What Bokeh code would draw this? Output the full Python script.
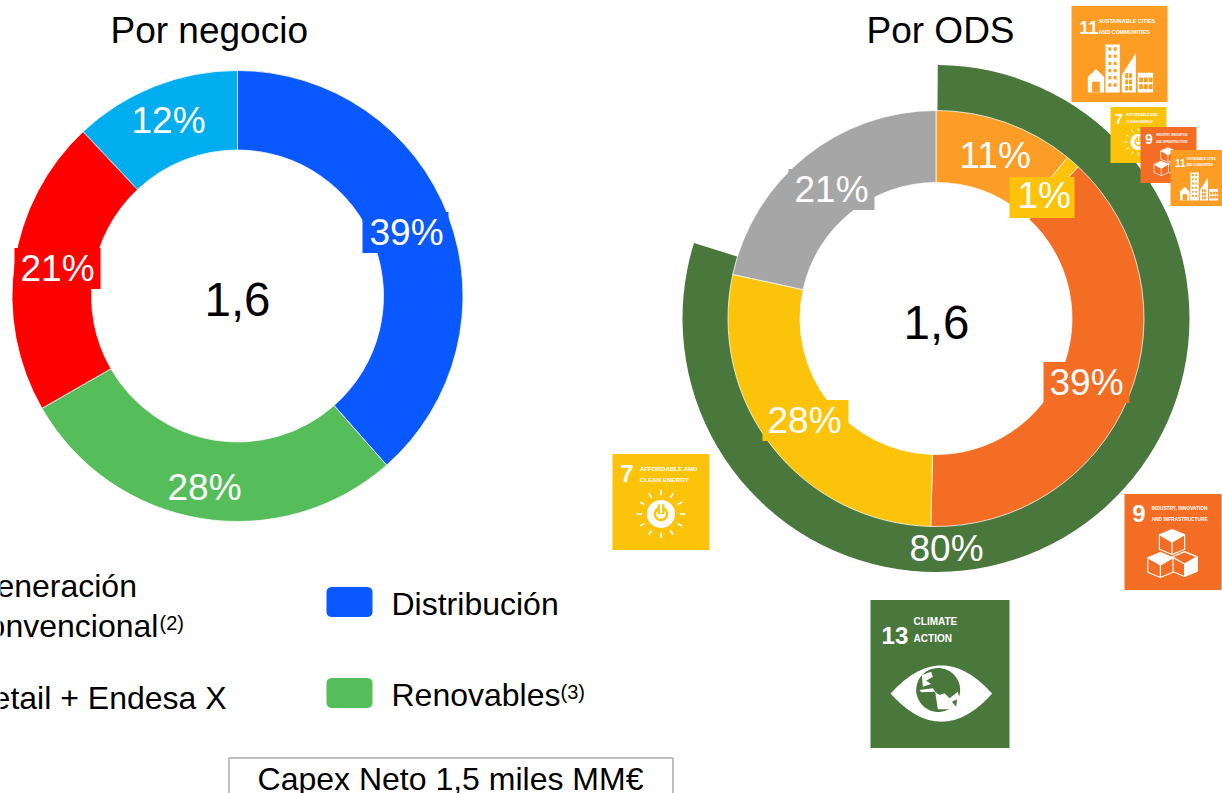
import numpy as np
from bokeh.plotting import figure
from bokeh.core.properties import value
from bokeh.embed import file_html
from bokeh.resources import INLINE

# ---- data ----
negocio_values = [38.5, 28.2, 21.3, 12.0]
negocio_labels = ["39%", "28%", "21%", "12%"]
negocio_colors = ["#0A58FF", "#55BE5A", "#FF0000", "#00AEEF"]

ods_values = [10.9, 1.1, 38.4, 28.0, 21.6]
ods_labels = ["11%", "1%", "39%", "28%", "21%"]
ods_colors = ["#FB9D26", "#FCC30B", "#F36D25", "#FCC30B", "#A6A6A6"]

climate_values = [79.7]
climate_labels = ["80%"]
climate_colors = ["#4A773C"]

total_label = "1,6"
capex_label = "Capex Neto 1,5 miles MM€"

W, H = 1222, 793
FONT = "Liberation Sans"
WHITE = "#FFFFFF"
BASE = 0.33  # baseline correction of the text glyph, in font sizes


def Y(y):
    return H - np.asarray(y, dtype=float)


p = figure(width=W, height=H, x_range=(1, W + 1), y_range=(-0.5, H - 0.5), output_backend="svg",
           toolbar_location=None, min_border=0, outline_line_color=None,
           background_fill_color=WHITE)
p.axis.visible = False
p.grid.visible = False


def txt(x, y, s, size, color="#000000", align="left", font=FONT, style="normal"):
    p.text(x=[x], y=[float(Y(y - BASE * size))], text=[s], text_font=value(font),
           text_font_size=value(f"{size}px"), text_color=color, text_align=align,
           text_baseline="alphabetic", text_font_style=style)


def box(x0, y0, x1, y1, color, line=None, lw=1):
    p.quad(left=[x0], right=[x1], top=[float(Y(y0))], bottom=[float(Y(y1))],
           fill_color=color, line_color=line, line_width=lw)


def ring(cx, cy, r0, r1, values, colors, offset=0.0, total=100.0, sep=None):
    starts = np.cumsum([0.0] + list(values)[:-1])
    ends = starts + np.array(values)
    a0 = np.pi / 2 - np.radians(offset) - 2 * np.pi * starts / total
    a1 = np.pi / 2 - np.radians(offset) - 2 * np.pi * ends / total
    p.annular_wedge(x=[cx] * len(values), y=[float(Y(cy))] * len(values),
                    inner_radius=r0, outer_radius=r1, start_angle=a0, end_angle=a1,
                    direction="clock", fill_color=colors, line_color=sep,
                    line_width=1 if sep else 0, line_alpha=0.75)


# ---------- pictograms ----------
def icon(x0, y0, w, h, color, num, lines, num_size, title_size, picto, title_u=0.28):
    box(x0, y0, x0 + w, y0 + h, color)
    U = lambda u: x0 + np.asarray(u, dtype=float) * w
    V = lambda v: Y(y0 + np.asarray(v, dtype=float) * h)

    def poly(us, vs, fill=WHITE, line=None, lw=1):
        p.patch(x=U(us), y=V(vs), fill_color=fill, line_color=line, line_width=lw)

    def rects(items, fill):
        for a, b, c, d in items:
            poly([a, c, c, a], [b, b, d, d], fill)

    def seg(us, vs, lw):
        p.line(x=U(us), y=V(vs), line_color=WHITE, line_width=lw)

    txt(float(U(0.08)), y0 + 0.29 * h, num, num_size, WHITE, style="bold")
    for ln, v in zip(lines, (0.17, 0.285)):
        txt(float(U(title_u)), y0 + v * h, ln, title_size, WHITE, style="bold")
    picto(w, h, U, V, poly, rects, seg, color)


def sun(w, h, U, V, poly, rects, seg, color):
    cx, cy = 0.5, 0.625
    t = np.linspace(0, 2 * np.pi, 60)
    for a in np.arange(12) * np.pi / 6:
        seg([cx + .195 * np.sin(a), cx + .25 * np.sin(a)],
            [cy - .195 * np.cos(a), cy - .25 * np.cos(a)], max(1, w * .017))
    poly(cx + .145 * np.cos(t), cy + .145 * np.sin(t))
    poly(cx + .075 * np.cos(t), cy + .075 * np.sin(t), color)
    poly(cx + .05 * np.cos(t), cy + .05 * np.sin(t))
    poly([cx - .035, cx + .035, cx + .035, cx - .035], [cy - .1, cy - .1, cy, cy], color)
    poly([cx - .012, cx + .012, cx + .012, cx - .012], [cy - .1, cy - .1, cy - .01, cy - .01])


def blocks(w, h, U, V, poly, rects, seg, color):
    r = 0.13
    q = 0.075
    lw = max(0.6, w * .012)
    for cx, cy, face in [(0.49, 0.50, "top"), (0.62, 0.73, "right"), (0.37, 0.74, "top")]:
        hx = [cx, cx + r, cx + r, cx, cx - r, cx - r]
        hy = [cy - r, cy - q, cy + q, cy + r, cy + q, cy - q]
        poly(hx, hy, color, WHITE, lw)
        if face == "top":
            poly([cx, cx + r, cx, cx - r], [cy - r, cy - q, cy, cy - q])
        else:
            poly([cx, cx + r, cx + r, cx], [cy, cy - q, cy + q, cy + r])
        seg([cx - r, cx, cx + r], [cy - q, cy, cy - q], lw)
        seg([cx, cx], [cy, cy + r], lw)


def city(w, h, U, V, poly, rects, seg, color):
    poly([.17, .255, .34, .34, .17], [.74, .655, .74, .90, .90])
    rects([(.215, .79, .295, .90)], color)
    rects([(.354, .40, .503, .90)], WHITE)
    win = []
    for r_ in range(6):
        for c_ in range(2):
            win.append((.385 + c_ * .055, .43 + r_ * .075, .415 + c_ * .055, .465 + r_ * .075))
    rects(win, color)
    poly([.524, .67, .67, .524], [.72, .49, .90, .90])
    rects([(.56 + c_ * .04, .70 + r_ * .065, .59 + c_ * .04, .75 + r_ * .065)
           for r_ in range(3) for c_ in range(2)], color)
    rects([(.69, .695, .85, .90)], WHITE)
    rects([(.705 + c_ * .05, .745 + r_ * .07, .745 + c_ * .05, .795 + r_ * .07)
           for r_ in range(2) for c_ in range(3)], color)


def eye(w, h, U, V, poly, rects, seg, color):
    s = np.linspace(-1, 1, 61)
    top = .632 - .19 * (1 - s ** 2)
    bot = .632 + .19 * (1 - s ** 2)
    poly(np.r_[.51 + .365 * s, .51 + .365 * s[::-1]], np.r_[top, bot[::-1]])
    t = np.linspace(0, 2 * np.pi, 60)
    cx, cy, r = .487, .608, .158
    poly(cx + r * np.cos(t), cy + r * w / h * np.sin(t), color)
    # oceans, traced on a 150-unit crop of the globe
    gu = lambda a: (44 + np.asarray(a, dtype=float) / 3) / 139
    gv = lambda b: (60 + np.asarray(b, dtype=float) / 3) / 148
    for xs, ys, fill in [
        ([22, 50, 55, 35, 50, 25], [45, 35, 50, 62, 72, 80], WHITE),
        ([15, 55, 62, 20], [90, 85, 95, 97], WHITE),
        ([62, 75, 90, 105, 130, 135, 115, 70], [95, 105, 100, 115, 95, 115, 148, 148], WHITE),
        ([112, 128, 125], [125, 118, 140], color),
    ]:
        poly(gu(xs), gv(ys), fill)


# ---------- left donut ----------
ring(238, 296, 146, 225.5, negocio_values, negocio_colors, sep=WHITE)
box(363, 212, 449, 253, negocio_colors[0])
box(15, 248, 101, 289, negocio_colors[2])
txt(370, 245, negocio_labels[0], 37, WHITE)
txt(168, 500, negocio_labels[1], 37, WHITE)
txt(21, 281, negocio_labels[2], 37, WHITE)
txt(132, 133, negocio_labels[3], 37, WHITE)
txt(238, 315, total_label, 47.5, align="center")
txt(111, 43, "Por negocio", 37)

# ---------- right donut ----------
ring(936.5, 318.5, 206, 253.5, climate_values, climate_colors, offset=0.4)
ring(936.5, 318.5, 136, 208, ods_values, ods_colors, sep=WHITE)
box(789, 169, 875, 210, ods_colors[4])
box(1010, 177, 1075, 218, ods_colors[1])
box(1044, 362, 1130, 403, ods_colors[2])
box(763, 400, 849, 441, ods_colors[3])
txt(960, 168, ods_labels[0], 37, WHITE)
txt(1018, 208, ods_labels[1], 37, WHITE)
txt(1050, 395, ods_labels[2], 37, WHITE)
txt(768, 433, ods_labels[3], 37, WHITE)
txt(795, 202, ods_labels[4], 37, WHITE)
txt(910, 561, climate_labels[0], 37, WHITE)
txt(937, 338, total_label, 47.5, align="center")
txt(867, 43, "Por ODS", 37)

# ---------- SDG tiles ----------
C7, C9, C11, C13 = "#FCC30B", "#F36D25", "#FD9D24", "#4A773C"
L7 = ["AFFORDABLE AND", "CLEAN ENERGY"]
L9 = ["INDUSTRY, INNOVATION", "AND INFRASTRUCTURE"]
L11 = ["SUSTAINABLE CITIES", "AND COMMUNITIES"]
icon(1072, 6, 96, 96, C11, "11", L11, 18, 5.4, city)
icon(1111, 107, 56, 56, C7, "7", L7, 14, 3.4, sun)
icon(1141, 127, 56, 56, C9, "9", L9, 14, 2.7, blocks)
icon(1171, 150, 56, 56, C11, "11", L11, 10, 2.8, city)
icon(613, 454, 97, 96, C7, "7", L7, 24, 6.2, sun)
icon(1125, 494, 97, 96, C9, "9", L9, 24, 4.8, blocks)
icon(871, 600, 139, 148, C13, "13", ["CLIMATE", "ACTION"], 24, 10, eye, title_u=0.31)


# ---------- legend ----------
def swatch(x0, y0, x1, y1, color, rad=5):
    t = np.linspace(0, np.pi / 2, 8)
    xs = np.r_[x1 - rad + rad * np.sin(t), x1 - rad + rad * np.cos(t),
               x0 + rad - rad * np.sin(t), x0 + rad - rad * np.cos(t)]
    ys = np.r_[y0 + rad - rad * np.cos(t), y1 - rad + rad * np.sin(t),
               y1 - rad + rad * np.cos(t), y0 + rad - rad * np.sin(t)]
    p.patch(x=xs, y=Y(ys), fill_color=color, line_color=None)


txt(-28, 597, "Generación", 32)
txt(-35, 637, "Convencional", 32)
txt(160, 630, "(2)", 20)
txt(-30, 709, "Retail + Endesa X", 32)
swatch(327, 587, 373, 617, negocio_colors[0])
txt(392, 615, "Distribución", 32)
swatch(327, 678, 373, 708, negocio_colors[1])
txt(392, 706, "Renovables", 32)
txt(561, 699, "(3)", 20)

box(229.5, 758, 673.5, 800, WHITE, "#BFBFBF", 2)
txt(451, 790, capex_label, 32, align="center")

open("out.html", "w").write(file_html(p, INLINE))
